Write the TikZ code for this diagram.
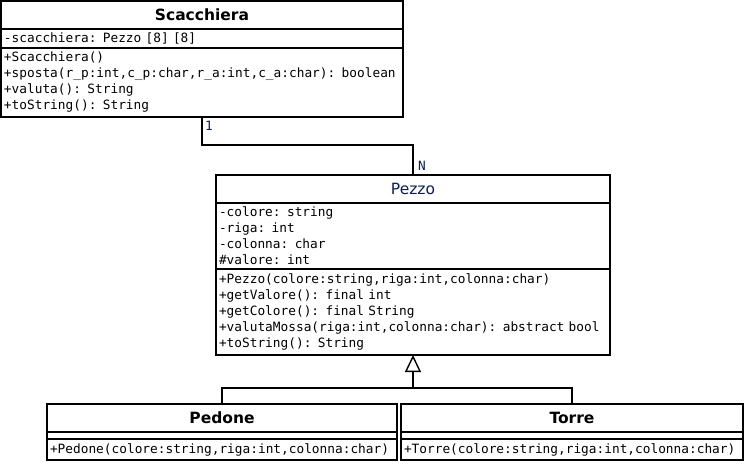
\documentclass[tikz,border=0pt]{standalone}
\usepackage{fontspec}
\setmainfont{DejaVu Sans}
\setmonofont{DejaVu Sans Mono}
\usetikzlibrary{arrows.meta,positioning}

\colorlet{box edge}{black}
\definecolor{label blue}{RGB}{10,30,90}
\tikzstyle{classbox} = [draw=box edge, line width=1.6pt, rectangle, inner sep=0pt, outer sep=0pt]
\tikzstyle{class title} = [classbox, anchor=north west, minimum height=28pt, font=\fontsize{15.5}{18}\selectfont\bfseries]
\tikzstyle{members} = [classbox, anchor=north west, inner xsep=3pt, align=left, font=\fontsize{12.8}{16}\selectfont\ttfamily]
\tikzstyle{link} = [draw, line width=1.6pt, -]
\tikzstyle{inherit} = [link, -{Triangle[open, length=17pt, width=16pt, line width=1.4pt]}]
\tikzstyle{mult} = [text=label blue, font=\fontsize{12.8}{16}\selectfont\ttfamily, inner sep=0pt]

\begin{document}
\begin{tikzpicture}[x=1pt, y=-1pt]
    \useasboundingbox (0,0) rectangle (746,464);

    % The board
    \node[class title, minimum width=402pt] (scacTitle) at (1,1) {Scacchiera};
    \node[members, below=0pt of scacTitle, text width=396pt, minimum height=19pt] (scacAttr)
      {-scacchiera: Pezzo [8] [8]};
    \node[members, below=0pt of scacAttr, text width=396pt, minimum height=69pt] (scacMeth)
      {+Scacchiera()\\
       +sposta(r\_p:int,c\_p:char,r\_a:int,c\_a:char): boolean\\
       +valuta(): String\\
       +toString(): String};

    % The abstract piece
    \node[class title, minimum width=394pt, font=\fontsize{15.5}{18}\selectfont, text=label blue] (pezzoTitle) at (216,175) {Pezzo};
    \node[members, below=0pt of pezzoTitle, text width=388pt, minimum height=66pt] (pezzoAttr)
      {-colore: string\\
       -riga: int\\
       -colonna: char\\
       \#valore: int};
    \node[members, below=0pt of pezzoAttr, text width=388pt, minimum height=86pt] (pezzoMeth)
      {+Pezzo(colore:string,riga:int,colonna:char)\\
       +getValore(): final int\\
       +getColore(): final String\\
       +valutaMossa(riga:int,colonna:char): abstract bool\\
       +toString(): String};

    % The subclasses
    \node[class title, minimum width=350pt] (pedoneTitle) at (47,404) {Pedone};
    \node[members, below=0pt of pedoneTitle, text width=344pt, minimum height=7pt] (pedoneAttr) {};
    \node[members, below=0pt of pedoneAttr, text width=344pt, minimum height=21pt] (pedoneMeth)
      {+Pedone(colore:string,riga:int,colonna:char)};

    \node[class title, minimum width=342pt] (torreTitle) at (401,404) {Torre};
    \node[members, below=0pt of torreTitle, text width=336pt, minimum height=7pt] (torreAttr) {};
    \node[members, below=0pt of torreAttr, text width=336pt, minimum height=21pt] (torreMeth)
      {+Torre(colore:string,riga:int,colonna:char)};

    % Association with multiplicities
    \draw[link] (scacMeth.south) -- ++(0,28) -| (pezzoTitle.north);
    \node[mult, anchor=north west] (one) at ([xshift=3pt, yshift=-4pt]scacMeth.south) {1};
    \node[mult, anchor=south west] (many) at ([xshift=5pt, yshift=4pt]pezzoTitle.north) {N};

    % Generalization
    \coordinate (joint) at (pezzoMeth.south |- 0,388);
    \draw[inherit] (joint) -- (pezzoMeth.south);
    \foreach \child in {pedoneTitle, torreTitle} {
      \draw[link] (\child.north) |- (joint);
    }

\end{tikzpicture}
\end{document}
